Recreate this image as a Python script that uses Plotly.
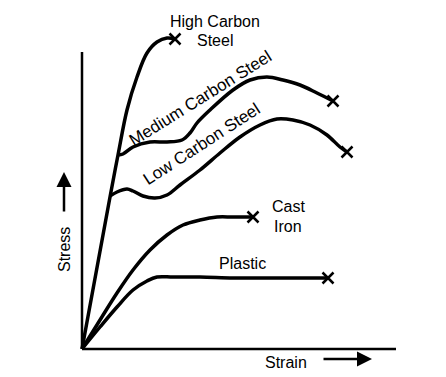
import plotly.graph_objects as go

# ---- data (strain, stress), arbitrary units ----
high_carbon_x = [0, 28, 36, 45, 55, 65, 75, 85, 93]
high_carbon_y = [0, 152, 194, 239, 272, 296, 307, 311, 310]

# branches start where they leave the common elastic line
medium_carbon_x = [36, 41, 51, 68, 85, 100, 108, 115, 128, 151, 168, 185, 201, 218, 235, 251]
medium_carbon_y = [194, 195, 202, 207, 207, 209, 216, 226, 239, 259, 269, 272, 269, 264, 256, 248]

low_carbon_x = [28, 35, 45, 51, 61, 73, 85, 98, 118, 138, 158, 178, 195, 211, 228, 245, 258, 265]
low_carbon_y = [153, 157, 160, 158, 153, 151, 154, 164, 179, 196, 212, 224, 230, 229, 224, 214, 202, 197]

cast_iron_x = [0, 18, 35, 51, 68, 85, 101, 118, 135, 151, 171]
cast_iron_y = [0, 29, 56, 79, 99, 114, 124, 129, 132, 132, 132]

plastic_x = [0, 18, 35, 51, 65, 75, 91, 118, 151, 185, 218, 246]
plastic_y = [0, 22, 42, 59, 68, 72, 72, 72, 71, 71, 71, 71]

series = [
    ("High Carbon Steel", high_carbon_x, high_carbon_y),
    ("Medium Carbon Steel", medium_carbon_x, medium_carbon_y),
    ("Low Carbon Steel", low_carbon_x, low_carbon_y),
    ("Cast Iron", cast_iron_x, cast_iron_y),
    ("Plastic", plastic_x, plastic_y),
]

axis_x_max = 314
axis_y_max = 297

fig = go.Figure()
for name, xs, ys in series:
    fig.add_trace(go.Scatter(
        x=xs, y=ys, mode="lines", name=name,
        line=dict(color="black", width=3.5, shape="spline", smoothing=1.0),
        hoverinfo="skip", showlegend=False))
    # fracture mark
    fig.add_trace(go.Scatter(
        x=[xs[-1]], y=[ys[-1]], mode="markers",
        marker=dict(symbol="x-thin", size=11, line=dict(color="black", width=2.5)),
        hoverinfo="skip", showlegend=False))

# axes lines
fig.add_shape(type="line", x0=0, y0=0, x1=0, y1=axis_y_max, line=dict(color="black", width=2.5))
fig.add_shape(type="line", x0=0, y0=0, x1=axis_x_max, y1=0, line=dict(color="black", width=2.5))

font = dict(family="Arial, Liberation Sans, sans-serif", size=16, color="black")
font_rot = dict(family="Arial, Liberation Sans, sans-serif", size=17, color="black")

labels = [
    ("High Carbon", 133, 328, 0, font),
    ("Steel", 133, 309, 0, font),
    ("Medium Carbon Steel", 118, 251, -32, font_rot),
    ("Low Carbon Steel", 119, 205, -33, font_rot),
    ("Cast", 206, 143, 0, font),
    ("Iron", 206, 123, 0, font),
    ("Plastic", 160, 86, 0, font),
    ("Strain", 204, -13, 0, font),
    ("Stress", -18, 99, -90, font),
]
for text, x, y, ang, f in labels:
    fig.add_annotation(x=x, y=y, text=text, showarrow=False, textangle=ang,
                       font=f, xanchor="center", yanchor="middle")

# arrows next to axis titles
fig.add_annotation(x=290, y=-10, ax=240, ay=-10, axref="x", ayref="y", xref="x", yref="y",
                   text="", showarrow=True, arrowhead=2, arrowsize=1.2, arrowwidth=2.5, arrowcolor="black")
fig.add_annotation(x=-18, y=177, ax=-18, ay=136, axref="x", ayref="y", xref="x", yref="y",
                   text="", showarrow=True, arrowhead=2, arrowsize=1.2, arrowwidth=2.5, arrowcolor="black")

# the page has an 8px body margin, so the figure is 438x369 and offset accordingly
fig.update_layout(
    width=438, height=369,
    margin=dict(l=0, r=0, t=0, b=0),
    paper_bgcolor="white", plot_bgcolor="white",
    xaxis=dict(range=[-74, 364], visible=False, fixedrange=True),
    yaxis=dict(range=[-28, 341], visible=False, fixedrange=True),
)

fig.write_html("out.html")
